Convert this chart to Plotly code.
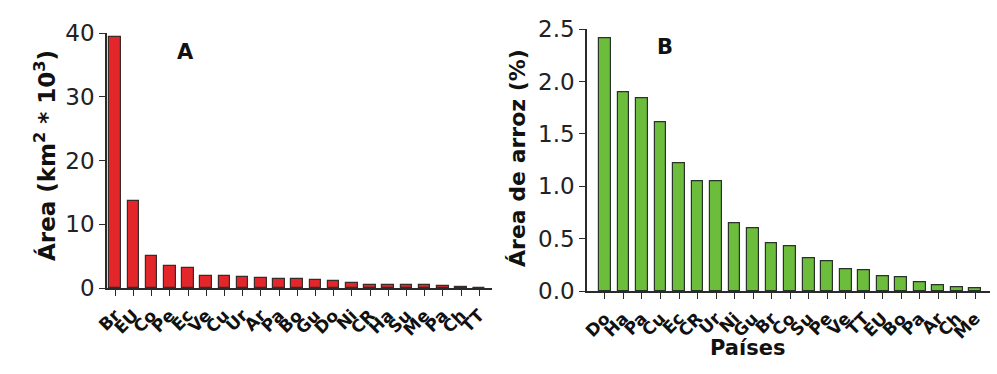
import plotly.graph_objects as go

# Panel A: rice area (km2 * 10^3)
cats_a = ["Br", "EU", "Co", "Pe", "Ec", "Ve", "Cu", "Ur", "Ar", "Pa", "Bo", "Gu", "Do", "Ni", "CR", "Ha", "Su", "Me", "Pa ", "Ch", "TT"]
vals_a = [39.3, 13.6, 5.0, 3.5, 3.2, 1.9, 1.85, 1.8, 1.6, 1.4, 1.35, 1.3, 1.15, 0.8, 0.5, 0.5, 0.45, 0.4, 0.3, 0.15, 0.05]

# Panel B: rice area (% of country)
cats_b = ["Do", "Ha", "Pa", "Cu", "Ec", "CR", "Ur", "Ni", "Gu", "Br", "Co", "Su", "Pe", "Ve", "TT", "EU", "Bo", "Pa ", "Ar", "Ch", "Me"]
vals_b = [2.41, 1.90, 1.84, 1.61, 1.22, 1.05, 1.045, 0.65, 0.60, 0.455, 0.43, 0.31, 0.28, 0.21, 0.195, 0.145, 0.13, 0.083, 0.057, 0.035, 0.026]

ticks_a = [0, 10, 20, 30, 40]
ticks_b = [0.0, 0.5, 1.0, 1.5, 2.0, 2.5]

FONT = "DejaVu Sans"
AX = "#2a2a2a"

fig = go.Figure()
fig.add_trace(go.Bar(x=list(range(len(cats_a))), y=vals_a, width=0.64,
                     marker=dict(color="#e2262a", line=dict(color="#3a2a2a", width=1.2)),
                     xaxis="x", yaxis="y", showlegend=False))
fig.add_trace(go.Bar(x=list(range(len(cats_b))), y=vals_b, width=0.64,
                     marker=dict(color="#6cbd3c", line=dict(color="#2a332a", width=1.2)),
                     xaxis="x2", yaxis="y2", showlegend=False))

xcommon = dict(showline=True, linecolor=AX, linewidth=1.5, ticks="outside", ticklen=6,
               tickcolor=AX, tickwidth=1.2, tickangle=-45, showgrid=False, zeroline=False,
               ticklabelstandoff=3,
               tickfont=dict(family=FONT, size=17, color="#111111", weight="bold"))
ycommon = dict(showline=True, linecolor=AX, linewidth=1.5, ticks="outside", ticklen=6,
               tickcolor=AX, tickwidth=1.2, showgrid=False, zeroline=False,
               tickfont=dict(family=FONT, size=23, color="#222222"))

fig.update_layout(
    width=997, height=374,
    margin=dict(l=0, r=0, t=0, b=0, autoexpand=False),
    paper_bgcolor="white", plot_bgcolor="white",
    bargap=0,
    xaxis=dict(domain=[107/997, 492/997], range=[-0.45, 20.7], anchor="y",
               tickvals=list(range(len(cats_a))), ticktext=[c.strip() for c in cats_a], **xcommon),
    yaxis=dict(domain=[1-288/374, 1-33/374], range=[0, 40], anchor="x",
               tickvals=ticks_a, ticktext=[str(t) for t in ticks_a], **ycommon),
    xaxis2=dict(domain=[587/997, 990/997], range=[-0.97, 20.8], anchor="y2",
                tickvals=list(range(len(cats_b))), ticktext=[c.strip() for c in cats_b], **xcommon),
    yaxis2=dict(domain=[1-291/374, 1-29.3/374], range=[0, 2.5], anchor="x2",
                tickvals=ticks_b, ticktext=[f"{t:.1f}" for t in ticks_b], **ycommon),
    annotations=[
        dict(text="<b>A</b>", x=175/997, y=1-38/374, xref="paper", yref="paper",
             showarrow=False, font=dict(family=FONT, size=21, color="#111111")),
        dict(text="<b>B</b>", x=675/997, y=1-33/374, xref="paper", yref="paper",
             showarrow=False, font=dict(family=FONT, size=21, color="#111111")),
        dict(text="<b>Área (km<sup>2</sup> * 10<sup>3</sup>)</b>", x=28/997, y=1-156/374,
             xref="paper", yref="paper", showarrow=False, textangle=-90,
             font=dict(family=FONT, size=23, color="#111111")),
        dict(text="<b>Área de arroz (%)</b>", x=517/997, y=1-158/374,
             xref="paper", yref="paper", showarrow=False, textangle=-90,
             font=dict(family=FONT, size=22, color="#111111")),
        dict(text="<b>Países</b>", x=787/997, y=1-362/374,
             xref="paper", yref="paper", showarrow=False,
             font=dict(family=FONT, size=21, color="#111111")),
    ],
)

fig.write_html("out.html", config={"displayModeBar": False})

# remove the browser's default page margin so the figure sits at (0, 0)
with open("out.html", "r", encoding="utf-8") as f:
    html = f.read()
html = html.replace("<head>", "<head><style>html,body{margin:0;padding:0;overflow:hidden;}</style>", 1)
with open("out.html", "w", encoding="utf-8") as f:
    f.write(html)
